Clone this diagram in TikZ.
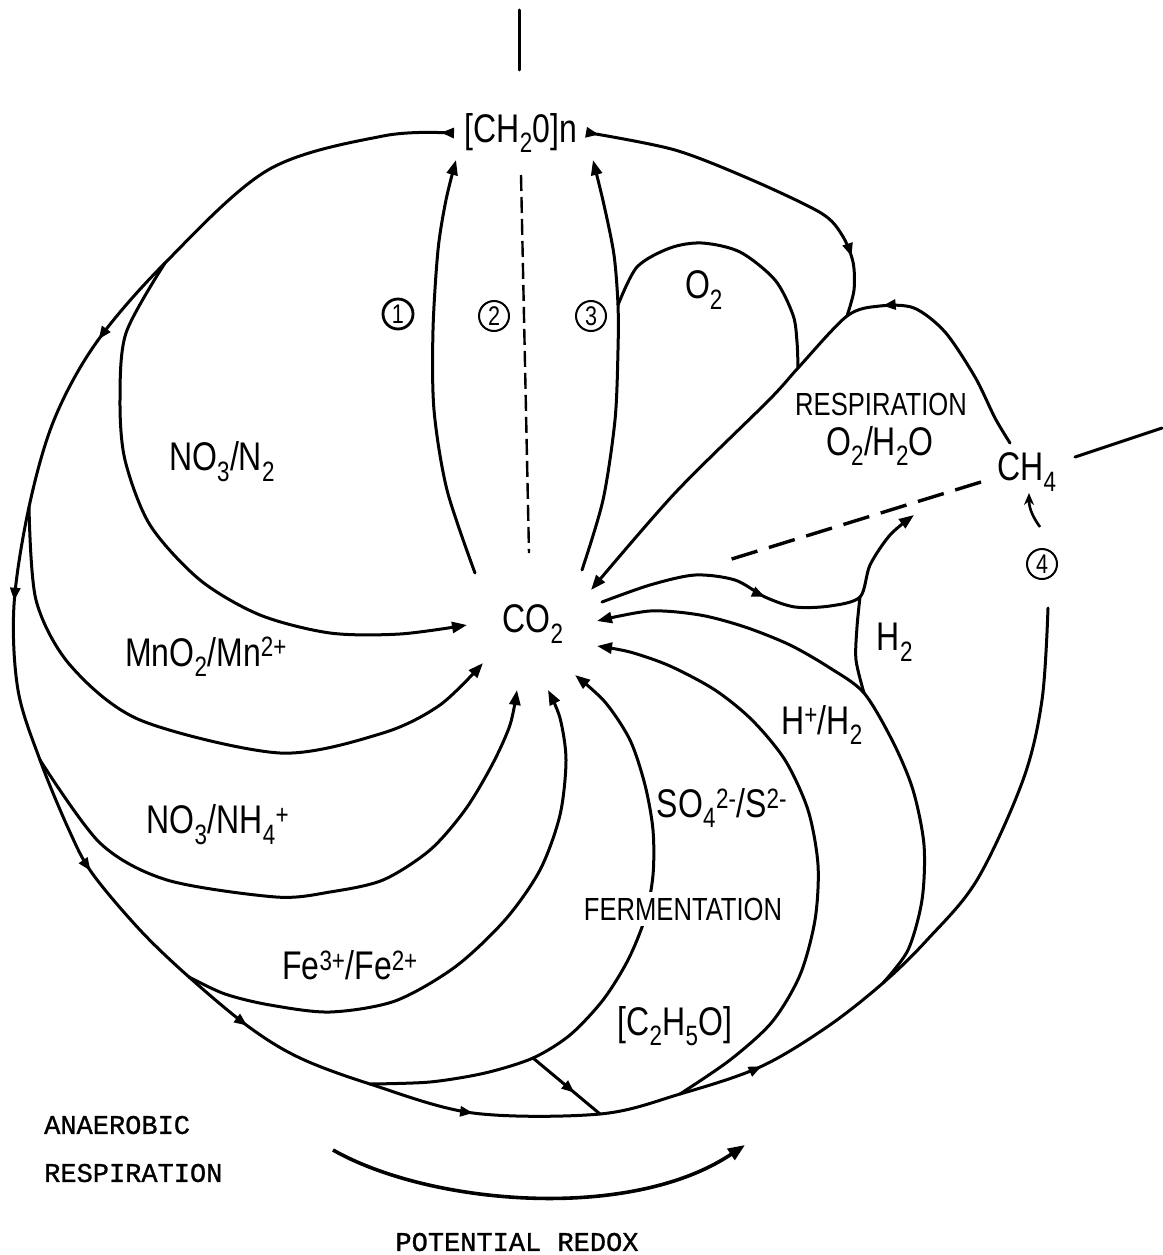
\documentclass[tikz,border=0pt]{standalone}
\usepackage{fontspec}
\setmainfont{Liberation Sans}
\newfontfamily\lblfont{Liberation Sans}[FakeStretch=0.8]
\newfontfamily\twfont{Liberation Mono}[FakeBold=1]
\usetikzlibrary{arrows.meta,decorations.markings}
\tikzset{
  ftri/.tip={Triangle[length=15pt,width=11pt]},
  mtri/.tip={Triangle[length=13pt,width=10pt]},
  flow/.style={line width=3pt, line cap=round, line join=round},
  lbl/.style={font={\lblfont\fontsize{40}{44}\selectfont}, inner sep=1pt},
  caps/.style={font={\lblfont\fontsize{32}{36}\selectfont}, inner sep=1pt},
  tw/.style={font={\twfont\fontsize{27}{30}\selectfont}, inner sep=0pt, anchor=west},
  numc/.style={circle, draw, line width=2pt, minimum size=30pt, inner sep=0pt, font={\lblfont\fontsize{27}{27}\selectfont}},
  dashA/.style={line width=2.4pt, dash pattern=on 16pt off 6pt},
  dashB/.style={line width=3.4pt, dash pattern=on 27pt off 12pt},
}
\begin{document}
\begin{tikzpicture}[x=1pt,y=-1pt]
\useasboundingbox (0,0) rectangle (1162,1255);
\fill[white] (0,0) rectangle (1162,1255);

% ---------- nodes ----------
\node[lbl] (ch2o) at (521,133) {[CH\textsubscript{2}0]n};
\node[lbl] (co2) at (533,624) {CO\textsubscript{2}};
\node[lbl] (ch4) at (1027,472) {CH\textsubscript{4}};
\node[lbl] (lo2) at (704,290) {O\textsubscript{2}};
\node[caps, inner sep=0pt, text height=23pt, text depth=0pt] (lresp) at (881,404) {RESPIRATION};
\node[lbl, inner sep=0pt, text height=28pt, text depth=6pt] (lo2h2o) at (880,444) {O\textsubscript{2}/H\textsubscript{2}O};
\node[lbl] (ln2) at (222,462) {NO\textsubscript{3}/N\textsubscript{2}};
\node[lbl] (lmn) at (206,657) {MnO\textsubscript{2}/Mn\textsuperscript{2+}};
\node[lbl] (lnh4) at (218,825) {NO\textsubscript{3}/NH\textsubscript{4}\textsuperscript{+}};
\node[lbl] (lfe) at (350,965) {Fe\textsuperscript{3+}/Fe\textsuperscript{2+}};
\node[lbl] (lh2) at (895,642) {H\textsubscript{2}};
\node[lbl] (lhh2) at (822,725) {H\textsuperscript{+}/H\textsubscript{2}};
\node[lbl] (lso4) at (722,808) {SO\textsubscript{4}\textsuperscript{2-}/S\textsuperscript{2-}};
\node[lbl] (lc2) at (675,1026) {[C\textsubscript{2}H\textsubscript{5}O]};
\node[tw] (lana) at (44,1125) {ANAEROBIC};
\node[tw] (lanr) at (44,1173) {RESPIRATION};
\node[tw, anchor=center] (lpot) at (517,1242) {POTENTIAL REDOX};
\node[numc, line width=2.8pt] (n1) at (398,314) {1};
\node[numc] (n2) at (494,316) {2};
\node[numc] (n3) at (591,316) {3};
\node[numc] (n4) at (1042,564) {4};

% ---------- coordinates ----------
\coordinate (topA) at (519,10);
\coordinate (topB) at (519,70);
\coordinate (ch2oR) at (590,133);
\foreach \i/\p in {0/{450,133},1/{383,136},2/{268,170},3/{165,263},4/{96,343},5/{54,420},6/{29,507},7/{14,605},8/{18,690},9/{40,760},10/{69,830},11/{92,873},12/{140,930},13/{189,977},14/{249,1027},15/{300,1058},16/{370,1084},17/{473,1113},18/{600,1114},19/{680,1094},20/{760,1067},21/{827,1027},22/{883,983},23/{927,940},24/{977,880},25/{1023,780},26/{1042,700},27/{1048,608}}
  \coordinate (o\i) at (\p);
\coordinate (jC) at (533,1058);
\coordinate (jR) at (847,316);
\coordinate (jO) at (798,368);
\coordinate (j3) at (618,305);
\coordinate (jH) at (860,597);
\coordinate (jA) at (864,693);
\coordinate (ch4r) at (1010,443);
\coordinate (ch4d) at (981,482);
\coordinate (ch4e) at (1075,457);
\coordinate (edgeR) at (1162,428);
\coordinate (s4) at (1040,527);
\coordinate (s4t) at (1029,493);
\coordinate (dash1) at (722,562);
\coordinate (rA) at (333,1150);
\coordinate (rB) at (745,1145);

% ---------- top line ----------
\draw[flow] (topA) -- (topB);

% ---------- outer path ----------
\draw[flow, postaction={decorate}, decoration={markings,
   mark=at position 9pt with {\arrow{mtri}},
   mark=at position 428pt with {\arrow{mtri}},
   mark=at position 706pt with {\arrow{mtri}},
   mark=at position 991pt with {\arrow{mtri}},
   mark=at position 1212pt with {\arrow{mtri}},
   mark=at position 1456pt with {\arrow{mtri}},
   mark=at position 1752pt with {\arrow{mtri}}}]
  plot[smooth, tension=0.55] coordinates {(o0) (o1) (o2) (o3) (o4) (o5) (o6) (o7) (o8) (o9) (o10) (o11) (o12) (o13) (o14) (o15) (o16) (o17) (o18) (o19) (o20) (o21) (o22) (o23) (o24) (o25) (o26) (o27)};

% ---------- arcs into CO2 ----------
\draw[flow, -{ftri}] plot[smooth] coordinates {(o3) (126,333) (120,400) (125,460) (150,525) (200,580) (260,615) (330,633) (400,634) (467,625)};
\draw[flow, -{ftri}] plot[smooth] coordinates {(o6) (36,600) (70,665) (140,720) (280,753) (383,733) (440,705) (483,663)};
\draw[flow, -{ftri}] plot[smooth] coordinates {(o9) (100,843) (167,880) (276,897) (330,892) (383,880) (430,850) (465,810) (492,765) (510,725) (517,690)};
\draw[flow, -{ftri}] plot[smooth] coordinates {(o13) (225,994) (270,1005) (330,1012) (395,1001) (455,967) (505,920) (540,870) (560,815) (566,760) (560,718) (548,690)};
\draw[flow, -{ftri}] plot[smooth] coordinates {(o16) (430,1082) (485,1073) (jC) (570,1035) (603,1000) (628,960) (645,918) (653,875) (653,830) (645,785) (630,740) (605,702) (575,675)};
\node[caps, fill=white, inner sep=6pt] (lferm) at (683,909) {FERMENTATION};
\draw[flow, postaction={decorate}, decoration={markings, mark=at position 0.62 with {\arrow{mtri}}}] (jC) -- (o18);
\draw[flow, -{ftri}] plot[smooth] coordinates {(o19) (730,1060) (772,1022) (800,975) (815,920) (818,865) (808,810) (785,760) (752,720) (715,690) (670,666) (630,652) (597,646)};
\draw[flow, -{ftri}] plot[smooth] coordinates {(o22) (908,950) (922,900) (924,845) (913,790) (893,742) (jA) (830,668) (790,645) (745,627) (700,615) (650,611) (597,621)};

% ---------- H2 branch ----------
\draw[flow, -{ftri}, postaction={decorate}, decoration={markings, mark=at position 172pt with {\arrow{mtri}}}]
  plot[smooth] coordinates {(602,602) (650,585) (695,575) (735,580) (765,597) (795,607) (830,606) (jH) (870,565) (890,535) (914,515)};
\draw[flow] plot[smooth] coordinates {(jA) (856,660) (857,627) (jH)};

% ---------- CH4 dashed ----------
\draw[dashB] (ch4d) -- (dash1);

% ---------- respiration line ----------
\draw[flow, -{ftri}, postaction={decorate}, decoration={markings, mark=at position 200pt with {\arrow{mtri}}}]
  plot[smooth] coordinates {(ch4r) (995,418) (975,377) (945,332) (914,308) (880,306) (jR) (jO) (769,400) (675,493) (591,590)};

% ---------- top right path ----------
\draw[flow, postaction={decorate}, decoration={markings,
   mark=at position 9pt with {\arrow{mtri}},
   mark=at position 300pt with {\arrow{mtri}}}]
  plot[smooth] coordinates {(ch2oR) (675,150) (752,180) (821,213) (842,235) (853,262) (854,290) (jR)};

% ---------- 1, 2, 3 ----------
\draw[flow, -{ftri}] plot[smooth] coordinates {(475,573) (447,490) (434,410) (433,330) (438,250) (446,200) (456,160)};
\draw[dashA] (521,175) -- (529,553);
\draw[flow, -{ftri}] plot[smooth] coordinates {(582,570) (603,500) (615,420) (618,350) (j3) (614,255) (604,205) (593,160)};
\draw[flow] plot[smooth] coordinates {(j3) (637,267) (670,248) (702,243) (740,252) (775,280) (793,315) (797,342) (jO)};

% ---------- CH4 extras ----------
\draw[flow] (ch4e) -- (edgeR);
\draw[line width=2.6pt, -{Stealth[length=12pt,width=10pt]}] (s4) to[bend left=18] (s4t);

% ---------- potential redox arrow ----------
\draw[line width=3.6pt, -{Triangle[length=17pt,width=13pt]}] (rA) .. controls (430,1205) and (630,1222) .. (rB);
\end{tikzpicture}
\end{document}
